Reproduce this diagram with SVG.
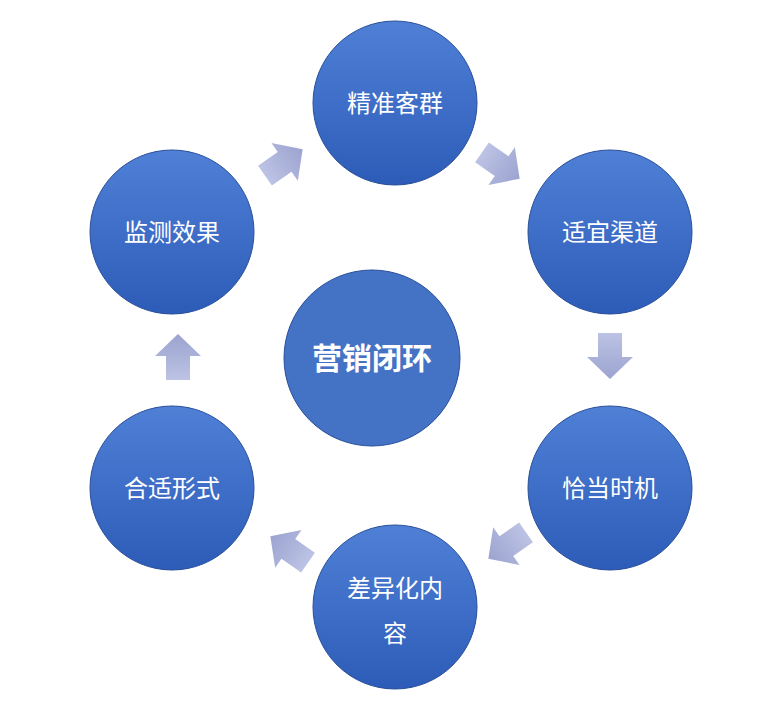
<svg xmlns="http://www.w3.org/2000/svg" width="772" height="716" viewBox="0 0 772 716">
<defs>
<linearGradient id="cg" x1="0" y1="0" x2="0" y2="1"><stop offset="0" stop-color="#4f80d6"/><stop offset="1" stop-color="#2d5cb8"/></linearGradient>
<linearGradient id="ag" x1="0" y1="0" x2="1" y2="0"><stop offset="0" stop-color="#bcc3e4"/><stop offset="1" stop-color="#9ca3d0"/></linearGradient>
<path id="arr" d="M-22,-12 L2,-12 L2,-23 L24,0 L2,23 L2,12 L-22,12 Z"/>
</defs>
<style>
.c{fill:url(#cg);stroke:#2a4f9a;stroke-width:1}
.t{fill:#fff;font-family:"Noto Sans CJK SC","Noto Sans",sans-serif;font-size:24px;text-anchor:middle}
.a{fill:url(#ag)}
</style>
<rect width="772" height="716" fill="#fff"/>
<g id="connectors">
<use href="#arr" class="a" transform="translate(283,163) rotate(-35)"/>
<use href="#arr" class="a" transform="translate(500,165) rotate(35)"/>
<use href="#arr" class="a" transform="translate(610,355) rotate(90)"/>
<use href="#arr" class="a" transform="translate(508,545) rotate(145)"/>
<use href="#arr" class="a" transform="translate(290,550) rotate(215)"/>
<use href="#arr" class="a" transform="translate(178,358) rotate(-90)"/>
</g>
<g id="center"><circle class="c" cx="372" cy="358" r="88" fill="#4472c4" style="fill:#4472c4"/><text class="t" x="372" y="369" style="font-size:30px;font-weight:bold">营销闭环</text></g>
<g id="n1"><circle class="c" cx="395" cy="103" r="82"/><text class="t" x="395" y="112">精准客群</text></g>
<g id="n2"><circle class="c" cx="610" cy="232" r="82"/><text class="t" x="610" y="241">适宜渠道</text></g>
<g id="n3"><circle class="c" cx="610" cy="488" r="82"/><text class="t" x="610" y="497">恰当时机</text></g>
<g id="n4"><circle class="c" cx="395" cy="607" r="82"/><text class="t" x="395" y="597">差异化内</text><text class="t" x="395" y="642">容</text></g>
<g id="n5"><circle class="c" cx="172" cy="488" r="82"/><text class="t" x="172" y="497">合适形式</text></g>
<g id="n6"><circle class="c" cx="172" cy="232" r="82"/><text class="t" x="172" y="241">监测效果</text></g>
</svg>
